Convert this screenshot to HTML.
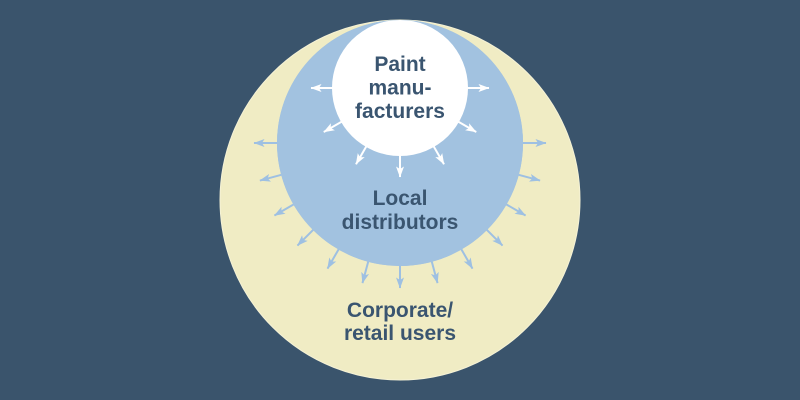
<!DOCTYPE html>
<html>
<head>
<meta charset="utf-8">
<style>
  html,body{margin:0;padding:0;background:#3a546c;}
  svg{display:block;}
  text{font-family:"Liberation Sans",Arial,sans-serif;font-weight:bold;font-size:21px;fill:#3a5570;text-anchor:middle;}
</style>
</head>
<body>
<svg width="800" height="400" viewBox="0 0 800 400" xmlns="http://www.w3.org/2000/svg">
  <defs>
    <marker id="aw" markerUnits="userSpaceOnUse" markerWidth="11" markerHeight="9" refX="10.5" refY="4.5" orient="auto">
      <path d="M0,0.5 L11,4.5 L0,8.5 L2.5,4.5 Z" fill="#ffffff"/>
    </marker>
    <marker id="ab" markerUnits="userSpaceOnUse" markerWidth="11" markerHeight="9" refX="10.5" refY="4.5" orient="auto">
      <path d="M0,0.5 L11,4.5 L0,8.5 L2.5,4.5 Z" fill="#9ec0e2"/>
    </marker>
  </defs>
  <rect width="800" height="400" fill="#3a546c"/>
  <circle cx="400" cy="200" r="180" fill="#f0ecc4" stroke="#f5f2d6" stroke-width="1"/>
  <circle cx="400" cy="143" r="123" fill="#a2c2e0"/>

  <!-- blue arrows -->
  <g stroke="#9ec0e2" stroke-width="2" marker-end="url(#ab)">
    <line x1="518" y1="143" x2="546" y2="143"/>
    <line x1="282" y1="143" x2="254" y2="143"/>
    <line x1="513.98" y1="173.54" x2="540.06" y2="180.53"/>
    <line x1="286.02" y1="173.54" x2="259.94" y2="180.53"/>
    <line x1="502.19" y1="202" x2="525.57" y2="215.5"/>
    <line x1="297.81" y1="202" x2="274.43" y2="215.5"/>
    <line x1="483.44" y1="226.44" x2="502.53" y2="245.53"/>
    <line x1="316.56" y1="226.44" x2="297.47" y2="245.53"/>
    <line x1="459" y1="245.19" x2="472.5" y2="268.57"/>
    <line x1="341" y1="245.19" x2="327.5" y2="268.57"/>
    <line x1="430.54" y1="256.98" x2="437.53" y2="283.06"/>
    <line x1="369.46" y1="256.98" x2="362.47" y2="283.06"/>
    <line x1="400" y1="261" x2="400" y2="288"/>
  </g>
  <circle cx="400" cy="143" r="123" fill="#a2c2e0"/>

  <!-- white arrows -->
  <g stroke="#ffffff" stroke-width="2" marker-end="url(#aw)">
    <line x1="462" y1="88" x2="489" y2="88"/>
    <line x1="338" y1="88" x2="311" y2="88"/>
    <line x1="453.69" y1="119" x2="476.21" y2="132"/>
    <line x1="346.31" y1="119" x2="323.79" y2="132"/>
    <line x1="431" y1="141.69" x2="444" y2="164.21"/>
    <line x1="369" y1="141.69" x2="356" y2="164.21"/>
    <line x1="400" y1="150" x2="400" y2="177"/>
  </g>
  <circle cx="400" cy="88" r="68" fill="#ffffff"/>

  <text x="400" y="71">Paint</text>
  <text x="400" y="94.5">manu-</text>
  <text x="400" y="118">facturers</text>

  <text x="400" y="205">Local</text>
  <text x="400" y="229">distributors</text>

  <text x="400" y="317">Corporate/</text>
  <text x="400" y="340">retail users</text>
</svg>
</body>
</html>
